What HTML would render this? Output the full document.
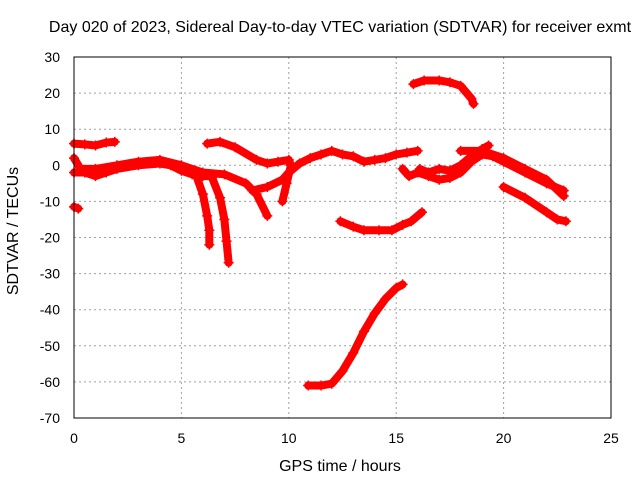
<!DOCTYPE html>
<html><head><meta charset="utf-8"><style>
body{margin:0;background:#fff;font-family:"Liberation Sans",sans-serif}
svg text{font-family:"Liberation Sans",sans-serif;font-size:14px;fill:#000}
svg text.big{font-size:16px}
</style></head><body>
<svg id="c" width="640" height="480">
<text class="big" x="340" y="32" text-anchor="middle">Day 020 of 2023, Sidereal Day-to-day VTEC variation (SDTVAR) for receiver exmt</text>
<text class="big" x="340" y="471" text-anchor="middle">GPS time / hours</text>
<text class="big" transform="translate(18,231) rotate(-90)" text-anchor="middle">SDTVAR / TECUs</text>
<g id="grid"></g><g id="series"></g>
<rect x="74" y="57" width="537" height="361" fill="none" stroke="#000"/>
</svg>
<script>
const xTicks=[0,5,10,15,20,25];
const yTicks=[30,20,10,0,-10,-20,-30,-40,-50,-60,-70];
const track1=[[0,6],[0.5,5.8],[1,5.5],[1.5,6.3],[1.9,6.5]];
const track2=[[0,-2],[0.5,-2],[1,-3],[1.5,-2],[2,-1],[3,0],[4,0.5],[4.5,0],[5,-1.5],[5.5,-2.5],[6,-3],[6.5,-3]];
const track3=[[0,2],[0.3,-1],[1,-1],[2,0],[3,1],[4,1.5],[5,0],[6,-2],[7,-2.5],[8,-5],[8.5,-8],[9,-14]];
const drop1=[[5.7,-3],[6,-8],[6.2,-14],[6.3,-18],[6.3,-22]];
const drop2=[[6.4,-3],[6.8,-9],[7.0,-15],[7.1,-21],[7.2,-27]];
const track4=[[6.2,6],[6.8,6.5],[7.5,5],[8.5,1.5],[9,0.5],[9.5,1],[10,1.5],[10.1,0],[9.9,-5],[9.7,-10]];
const track5=[[8.3,-7],[9,-6],[9.7,-4],[10,-2],[10.5,0.5],[11,2],[11.5,3],[12,4],[12.5,3],[13,2.5],[13.5,1],[14,1.5],[14.5,2],[15,3],[15.5,3.5],[16,4]];
const track6=[[10.9,-61],[11.5,-61],[12,-60.5],[12.5,-57],[13,-52],[13.5,-46],[14,-41],[14.5,-37],[15,-34],[15.3,-33]];
const track7=[[12.4,-15.5],[13,-17],[13.5,-18],[14.2,-18],[14.8,-18],[15.3,-16.5],[15.7,-15.5],[16.2,-13]];
const track8=[[15.8,22.5],[16.3,23.5],[17,23.5],[17.5,23],[18,22],[18.5,18.5],[18.6,17]];
const track9=[[15.3,-1],[15.6,-3],[16,-2],[16.5,-3],[17,-4],[17.5,-3.5],[18,-2],[18.5,1],[19,3],[19.5,2.5],[20,1],[21,-2],[22,-5],[22.8,-7]];
const track10=[[16.1,-1],[16.5,-2],[17,-1],[17.5,-1.5],[18,0],[18.5,2.5],[19,4.5],[19.3,5.5]];
const track11=[[18,4],[19,4],[20,2],[21,-1],[22,-4],[22.8,-8.5]];
const track12=[[20,-6],[21,-9],[22,-13],[22.5,-15],[22.9,-15.5]];
const track13=[[0,-11.5],[0.2,-12]];
const tracks=[track1,track2,track3,drop1,drop2,track4,track5,track6,track7,track8,track9,track10,track11,track12,track13];
const NS='http://www.w3.org/2000/svg';
const X=h=>74+h*537/25, Y=v=>57+(30-v)*361/100;
const grid=document.getElementById('grid'),ser=document.getElementById('series'),svg=document.getElementById('c');
function mk(t,a,p){const e=document.createElementNS(NS,t);for(const k in a)e.setAttribute(k,a[k]);p.appendChild(e);return e;}
xTicks.forEach(t=>{const x=X(t);
 if(t>0&&t<25){const l=mk('line',{x1:x,x2:x,y1:57,y2:418,stroke:'#a0a0a0','stroke-dasharray':'2,3'},grid);
 
 }
 const s=mk('text',{x:x,y:443,'text-anchor':'middle'},svg);s.textContent=t;
 
 });
yTicks.forEach(t=>{const y=Y(t);
 if(t<30&&t>-70){const l=mk('line',{x1:74,x2:611,y1:y,y2:y,stroke:'#a0a0a0','stroke-dasharray':'2,3'},grid);
 
 }
 const s=mk('text',{x:60,y:y+5,'text-anchor':'end'},svg);s.textContent=t;
 
 });
tracks.forEach((tr,i)=>{
 const p=mk('polyline',{points:tr.map(d=>X(d[0])+','+Y(d[1])).join(' '),fill:'none',stroke:'#f00','stroke-width':8,'stroke-linejoin':'round','stroke-linecap':'round'},ser);
 
 
 tr.forEach(d=>{const m=mk('path',{d:`M${X(d[0])-5},${Y(d[1])}h10M${X(d[0])},${Y(d[1])-5}v10`,stroke:'#f00','stroke-width':1.5},ser);
  
  });
});
</script>
</body></html>
